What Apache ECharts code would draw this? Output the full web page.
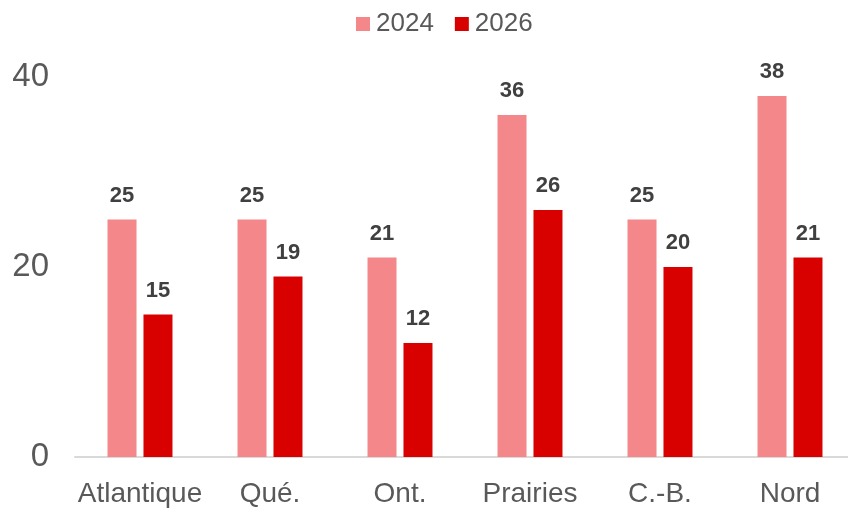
<!DOCTYPE html>
<html><head><meta charset="utf-8">
<script src="https://cdn.jsdelivr.net/npm/echarts@6/dist/echarts.min.js"></script>
<style>html,body{margin:0;padding:0;background:#fff;overflow:hidden}#c{width:856px;height:508px}</style>
</head><body><div id="c"></div>
<script>
const categories = ['Atlantique', 'Qué.', 'Ont.', 'Prairies', 'C.-B.', 'Nord'];
const series2024 = [25, 25, 21, 36, 25, 38];
const series2026 = [15, 19, 12, 26, 20, 21];
const seriesNames = ['2024', '2026'];
const yTicks = { min: 0, max: 40, interval: 20 };

const chart = echarts.init(document.getElementById('c'), null, { renderer: 'canvas' });
const labelStyle = {
  show: true, position: 'top', distance: 13,
  color: '#404040', fontWeight: 'bold', fontSize: 22, fontFamily: 'Liberation Sans, Arial, sans-serif'
};
chart.setOption({
  animation: false,
  textStyle: { fontFamily: 'Liberation Sans, Arial, sans-serif' },
  legend: {
    data: seriesNames, top: 6, left: 351,
    itemWidth: 14, itemHeight: 14, itemGap: 21,
    icon: 'rect',
    textStyle: { color: '#595959', fontSize: 26, padding: [0, 0, 0, 1] }
  },
  grid: { left: 75, top: 77, width: 780, bottom: 47, containLabel: false },
  xAxis: {
    type: 'category', data: categories,
    axisLine: { lineStyle: { color: '#D9D9D9', width: 2 } },
    axisTick: { show: false },
    axisLabel: { color: '#595959', fontSize: 28, margin: 23, interval: 0 }
  },
  yAxis: {
    type: 'value', min: yTicks.min, max: yTicks.max, interval: yTicks.interval,
    axisLine: { show: false }, axisTick: { show: false }, splitLine: { show: false },
    axisLabel: { color: '#595959', fontSize: 33, margin: 26 }
  },
  series: [
    { name: seriesNames[0], type: 'bar', data: series2024, barWidth: 29, barGap: '24%',
      itemStyle: { color: '#F4878A' }, label: labelStyle },
    { name: seriesNames[1], type: 'bar', data: series2026, barWidth: 29,
      itemStyle: { color: '#D90000' }, label: labelStyle }
  ]
});
</script></body></html>
